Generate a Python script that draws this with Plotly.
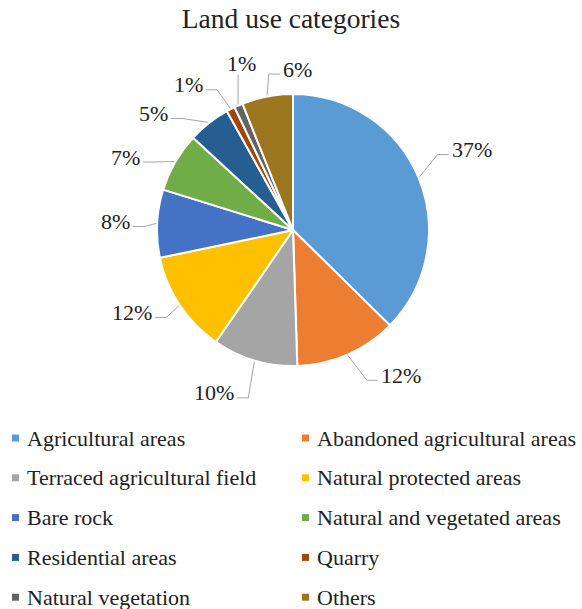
import math
import plotly.graph_objects as go

# Land use shares (percent) in drawing order, clockwise from 12 o'clock
categories = [
    "Agricultural areas", "Abandoned agricultural areas",
    "Terraced agricultural field", "Natural protected areas",
    "Bare rock", "Natural and vegetated areas",
    "Residential areas", "Quarry",
    "Natural vegetation", "Others",
]
shares = [37, 12, 10, 12, 8, 7, 5, 1, 1, 6]
colors = [
    "#5B9BD5", "#ED7D31", "#A5A5A5", "#FFC000", "#4472C4",
    "#70AD47", "#255E91", "#9E480E", "#636363", "#9C7720",
]

# page geometry (px)
W, H = 582, 609
CX, CY, R = 293, 230, 136
FONT = "Liberation Serif"
TEXT_COLOR = "#222222"
LINE_COLOR = "#A6A6A6"

# outside-label placement: angular nudge (deg) and distance from pie centre (px)
label_nudge = [-1.5, -13, 9.5, 6.5, 0, -6.5, -12, -8.5, 6.5, 12.5]
label_dist = [196, 181, 181, 181, 178, 183, 182, 179, 174, 161]
LABEL_SIZE = 22


def px(x):
    return x / W


def py(y):
    return 1 - y / H


fig = go.Figure(
    go.Pie(
        labels=categories,
        values=shares,
        sort=False,
        direction="clockwise",
        rotation=0,
        textinfo="none",
        marker=dict(colors=colors, line=dict(color="white", width=2)),
        domain=dict(x=[px(CX - R), px(CX + R)], y=[py(CY + R), py(CY - R)]),
        showlegend=False,
        hovertemplate="%{label}: %{value}%<extra></extra>",
    )
)

annotations = []
shapes = []

# percentage labels with leader lines
total = sum(shares)
cum = 0
for i, v in enumerate(shares):
    mid = (cum + v / 2) / total * 360
    cum += v
    text = f"{v}%"
    # label centre
    a = math.radians(mid + label_nudge[i])
    lx = CX + label_dist[i] * math.sin(a)
    ly = CY - label_dist[i] * math.cos(a)
    half_w = LABEL_SIZE * (0.5 * len(str(v)) + 0.833) / 2
    annotations.append(dict(
        x=px(lx), y=py(ly), xref="paper", yref="paper", text=text,
        showarrow=False, xanchor="center", yanchor="middle",
        font=dict(family=FONT, size=LABEL_SIZE, color=TEXT_COLOR),
    ))
    # leader line from slice edge to the label
    m = math.radians(mid)
    ex = CX + (R + 1) * math.sin(m)
    ey = CY - (R + 1) * math.cos(m)
    if abs(lx - ex) < half_w:
        pts = [(ex, ey), (ex, ly + 11)]
    elif lx > ex:
        end = (lx - half_w - 3, ly + 5)
        pts = [(ex, ey), (end[0] - 11, end[1]), end]
    else:
        end = (lx + half_w + 3, ly + 5)
        pts = [(ex, ey), (end[0] + 11, end[1]), end]
    path = "M " + " L ".join(f"{px(x):.5f},{py(y):.5f}" for x, y in pts)
    shapes.append(dict(type="path", path=path, xref="paper", yref="paper",
                       line=dict(color=LINE_COLOR, width=1)))

# two-column legend
col_x = [12, 302]
row_y0, row_step = 438, 39.8
MK = 7
for i, name in enumerate(categories):
    cx0 = col_x[i % 2]
    ry = row_y0 + row_step * (i // 2)
    shapes.append(dict(
        type="rect", xref="paper", yref="paper",
        x0=px(cx0), x1=px(cx0 + MK), y0=py(ry + MK / 2), y1=py(ry - MK / 2),
        fillcolor=colors[i], line=dict(width=0),
    ))
    annotations.append(dict(
        x=px(cx0 + MK + 6), y=py(ry), xref="paper", yref="paper", text=name,
        showarrow=False, xanchor="left", yanchor="middle",
        font=dict(family=FONT, size=22, color=TEXT_COLOR),
    ))

fig.update_layout(
    width=W, height=H,
    margin=dict(l=0, r=0, t=0, b=0),
    paper_bgcolor="white",
    plot_bgcolor="white",
    title=dict(
        text="Land use categories", x=0.5, xanchor="center",
        y=py(18), yanchor="middle",
        font=dict(family=FONT, size=27.5, color=TEXT_COLOR),
    ),
    annotations=annotations,
    shapes=shapes,
)

fig.write_html("out.html")
